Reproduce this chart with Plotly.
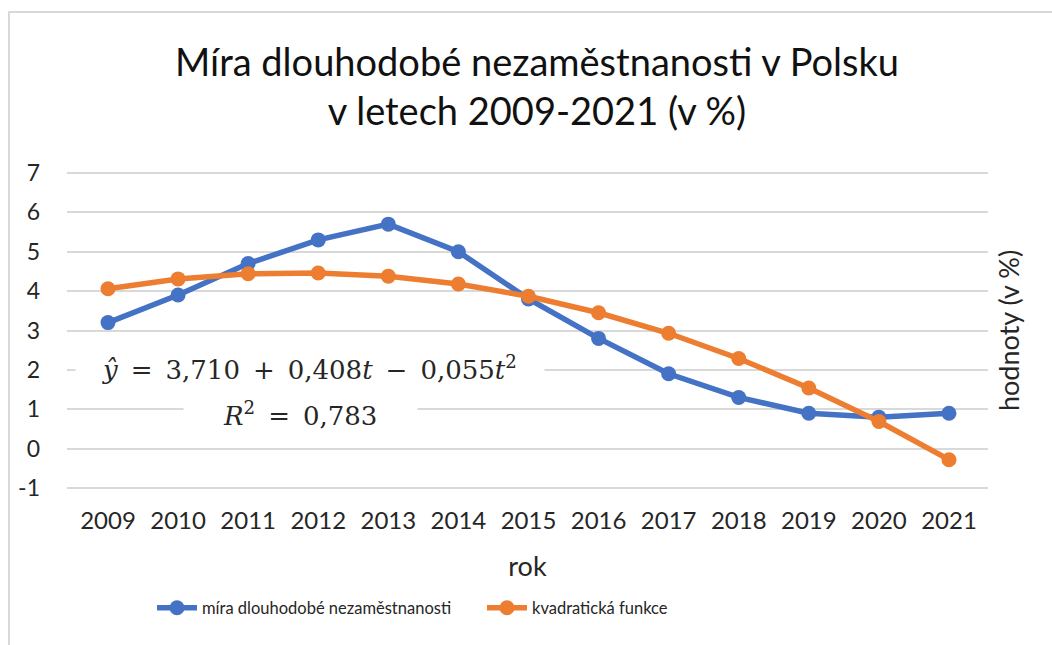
import plotly.graph_objects as go

# values
years = [2009, 2010, 2011, 2012, 2013, 2014, 2015, 2016, 2017, 2018, 2019, 2020, 2021]
mira = [3.2, 3.9, 4.7, 5.3, 5.7, 5.0, 3.8, 2.8, 1.9, 1.3, 0.9, 0.8, 0.9]
kvadrat = [4.06, 4.31, 4.44, 4.46, 4.38, 4.18, 3.87, 3.45, 2.93, 2.29, 1.54, 0.69, -0.28]
y_ticks = [-1, 0, 1, 2, 3, 4, 5, 6, 7]
y_labels = ["-1", "0", "1", "2", "3", "4", "5", "6", "7"]

BLUE = "#4472C4"
ORANGE = "#ED7D31"
FONT = "Lato"
TXT = "#262626"
MATH = "DejaVu Serif"

W, H = 1052, 645
L, R, T, B = 67, 64, 171, 155
PW, PH = W - L - R, H - T - B


def px_x(p):
    # pixel column -> paper x
    return (p - L) / PW


def px_y(p):
    # pixel row (from top) -> paper y
    return (H - B - p) / PH


fig = go.Figure()
fig.add_trace(go.Scatter(
    x=years, y=mira, mode="lines+markers", name="míra dlouhodobé nezaměstnanosti",
    line=dict(color=BLUE, width=5.5), marker=dict(color=BLUE, size=15),
))
fig.add_trace(go.Scatter(
    x=years, y=kvadrat, mode="lines+markers", name="kvadratická funkce",
    line=dict(color=ORANGE, width=5.5), marker=dict(color=ORANGE, size=15),
))

# equation of the fitted trend, on white boxes that hide the gridlines
sp = "\u2002"  # en space, math-like spacing around operators
fig.add_annotation(
    text=(sp * 2 + "<i>ŷ</i>" + sp + "=" + sp + "3,710" + sp + "+" + sp + "0,408<i>t</i>"
          + sp + "−" + sp + "0,055<i>t</i><sup>2</sup>" + sp * 2),
    x=px_x(310), y=px_y(368), xref="paper", yref="paper", showarrow=False,
    xanchor="center", yanchor="middle",
    font=dict(family=MATH, size=26, color=TXT),
    bgcolor="white", borderpad=1,
)
fig.add_annotation(
    text=sp * 3 + "<i>R</i><sup>2</sup>" + sp + "=" + sp + "0,783" + sp * 3,
    x=px_x(300), y=px_y(414), xref="paper", yref="paper", showarrow=False,
    xanchor="center", yanchor="middle",
    font=dict(family=MATH, size=26, color=TXT),
    bgcolor="white", borderpad=1,
)

# y axis title sits on the right side
fig.add_annotation(
    text="hodnoty (v %)", x=px_x(1008), y=px_y(331), xref="paper", yref="paper",
    xanchor="center", yanchor="middle",
    showarrow=False, textangle=-90, font=dict(family=FONT, size=27, color=TXT),
)

fig.update_layout(
    width=W, height=H,
    margin=dict(l=L, r=R, t=T, b=B),
    paper_bgcolor="white", plot_bgcolor="white",
    font=dict(family=FONT, color=TXT),
    title=dict(
        text="Míra dlouhodobé nezaměstnanosti v Polsku<br>v letech 2009-2021 (v %)",
        x=537 / W, xanchor="center", y=1 - 76 / H, yanchor="top",
        font=dict(family=FONT, size=38, color="#111111"),
    ),
    xaxis=dict(
        range=[2008.415, 2021.557], tickvals=years, ticktext=[str(y) for y in years],
        showgrid=False, zeroline=False, showline=False, ticks="",
        tickfont=dict(size=24), ticklabelstandoff=14,
        title=dict(text="rok", font=dict(size=27), standoff=24),
    ),
    yaxis=dict(
        range=[-1.05, 7.05], tickvals=y_ticks, ticktext=y_labels,
        showgrid=True, gridcolor="#D9D9D9",
        gridwidth=2, zeroline=False, showline=False, ticks="",
        tickfont=dict(size=23), ticklabelstandoff=26,
    ),
    legend=dict(
        orientation="h", x=px_x(152), xanchor="left", y=px_y(608), yanchor="middle",
        font=dict(size=16.5, color=TXT), itemwidth=40, traceorder="normal",
        entrywidth=275,
    ),
)

# sheet border at top and left of the screenshot
fig.add_shape(type="rect", xref="paper", yref="paper", layer="above",
              x0=px_x(9), x1=px_x(W + 20), y0=px_y(12), y1=px_y(H + 20),
              line=dict(color="#D9D9D9", width=2), fillcolor="rgba(0,0,0,0)")

fig.write_html("out.html", config={"displayModeBar": False},
               post_script="document.body.style.margin='0';")
